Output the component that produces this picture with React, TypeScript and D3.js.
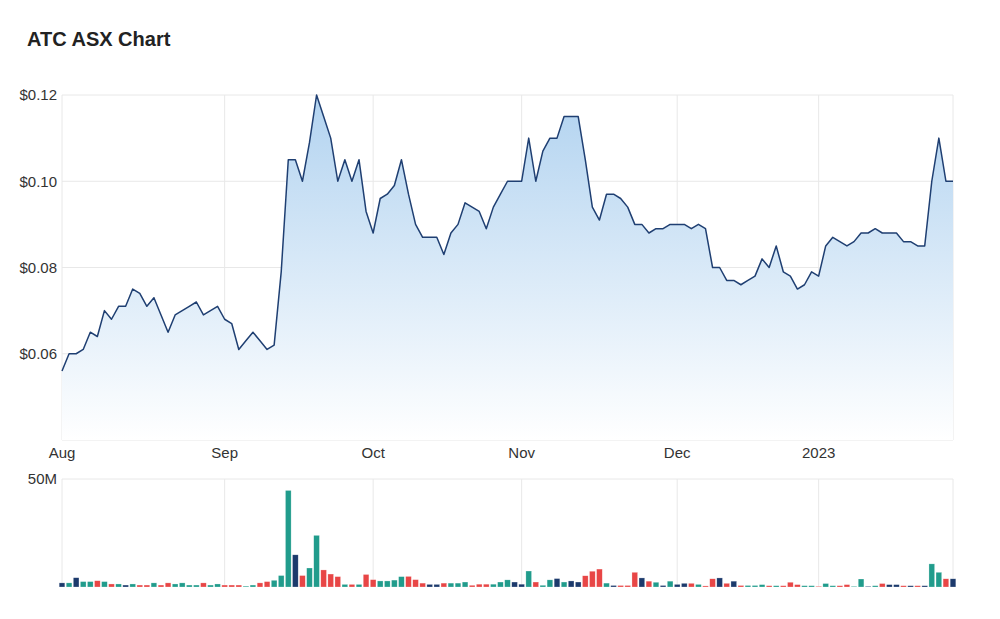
import React from "react";
import * as d3 from "d3";

const title = "ATC ASX Chart";

// Closing prices (AUD), one per ASX trading day, 1 Aug 2022 – 31 Jan 2023
const prices: number[] = [
  0.056, 0.060, 0.060, 0.061, 0.065, 0.064, 0.070, 0.068, 0.071, 0.071,
  0.075, 0.074, 0.071, 0.073, 0.069, 0.065, 0.069, 0.070, 0.071, 0.072,
  0.069, 0.070, 0.071, 0.068, 0.067, 0.061, 0.063, 0.065, 0.063, 0.061,
  0.062, 0.079, 0.105, 0.105, 0.100, 0.109, 0.120, 0.115, 0.110, 0.100,
  0.105, 0.100, 0.105, 0.093, 0.088, 0.096, 0.097, 0.099, 0.105, 0.097,
  0.090, 0.087, 0.087, 0.087, 0.083, 0.088, 0.090, 0.095, 0.094, 0.093,
  0.089, 0.094, 0.097, 0.100, 0.100, 0.100, 0.110, 0.100, 0.107, 0.110,
  0.110, 0.115, 0.115, 0.115, 0.105, 0.094, 0.091, 0.097, 0.097, 0.096,
  0.094, 0.090, 0.090, 0.088, 0.089, 0.089, 0.090, 0.090, 0.090, 0.089,
  0.090, 0.089, 0.080, 0.080, 0.077, 0.077, 0.076, 0.077, 0.078, 0.082,
  0.080, 0.085, 0.079, 0.078, 0.075, 0.076, 0.079, 0.078, 0.085, 0.087,
  0.086, 0.085, 0.086, 0.088, 0.088, 0.089, 0.088, 0.088, 0.088, 0.086,
  0.086, 0.085, 0.085, 0.100, 0.110, 0.100, 0.100,
];

// Daily volume, millions of shares
const volumesM: number[] = [
  1.9, 1.9, 4.3, 2.5, 2.5, 2.9, 2.5, 1.4, 1.4, 0.9,
  1.4, 0.9, 0.9, 1.9, 0.9, 1.9, 1.4, 1.9, 0.9, 0.9,
  1.9, 0.9, 1.4, 0.9, 0.9, 0.9, 0.4, 0.9, 1.9, 2.5,
  3.1, 5.3, 44.7, 14.9, 5.3, 8.8, 23.9, 7.9, 6.0, 4.8,
  1.2, 1.2, 1.2, 5.8, 3.4, 2.8, 2.8, 3.2, 4.8, 4.9,
  3.4, 1.8, 1.2, 1.2, 1.8, 1.8, 1.8, 2.3, 0.8, 1.3,
  1.3, 1.3, 2.3, 3.3, 2.3, 1.3, 7.4, 2.3, 0.8, 3.3,
  3.9, 2.3, 2.8, 2.3, 5.2, 7.3, 8.3, 1.8, 0.7, 0.7,
  0.7, 6.8, 4.2, 2.7, 2.2, 0.7, 2.7, 1.2, 1.7, 1.7,
  1.2, 0.5, 3.8, 4.2, 1.7, 2.7, 0.7, 0.7, 0.7, 1.1,
  0.6, 0.6, 0.6, 2.2, 1.1, 0.6, 0.6, 0.3, 1.6, 0.6,
  0.6, 1.1, 0.3, 3.7, 0.3, 0.6, 1.6, 1.1, 1.1, 0.6,
  0.6, 0.6, 0.6, 10.7, 6.8, 3.8, 3.8,
];

// Month labels and the trading-day index each falls on
const monthLabels: string[] = ["Aug", "Sep", "Oct", "Nov", "Dec", "2023"];
const monthIndex: number[] = [0, 23, 44, 65, 87, 107];

const priceTicks: number[] = [0.06, 0.08, 0.1, 0.12];
const volumeTicks: number[] = [50];

const W = 1000;
const H = 619;
const LEFT = 62;
const RIGHT = 953;
const P_TOP = 95;
const P_BOT = 440;
const V_TOP = 479;
const V_BOT = 587;

const UP = "#219c8c";
const DOWN = "#e84646";
const FLAT = "#1c3a6c";
const LINE = "#1f3f72";
const GRID = "#e8e8e8";
const TEXT = "#333333";
const FONT = "'Liberation Sans', Arial, sans-serif";

export default function App() {
  const n = prices.length;
  const x = d3.scaleLinear().domain([0, n - 1]).range([LEFT, RIGHT]);
  const y = d3.scaleLinear().domain([0.04, 0.12]).range([P_BOT, P_TOP]);
  const v = d3.scaleLinear().domain([0, 50]).range([V_BOT, V_TOP]);

  const line = d3
    .line<number>()
    .x((_, i) => x(i))
    .y((d) => y(d));
  const area = d3
    .area<number>()
    .x((_, i) => x(i))
    .y0(P_BOT)
    .y1((d) => y(d));

  const step = x(1) - x(0);
  const barW = step * 0.8;

  const colorFor = (i: number) => {
    if (i === 0) return FLAT;
    if (prices[i] > prices[i - 1]) return UP;
    if (prices[i] < prices[i - 1]) return DOWN;
    return FLAT;
  };

  return (
    <svg
      width={W}
      height={H}
      style={{ position: "absolute", left: 0, top: 0, background: "#fff" }}
      fontFamily={FONT}
    >
      <defs>
        <linearGradient id="areaGrad" gradientUnits="userSpaceOnUse" x1="0" y1={P_TOP} x2="0" y2={P_BOT}>
          <stop offset="0" stopColor="#b2d3f0" />
          <stop offset="1" stopColor="#ffffff" />
        </linearGradient>
      </defs>

      <text x={27} y={46} fontSize={20} fontWeight="bold" fill="#222">
        {title}
      </text>

      {/* price grid */}
      {[0.04, ...priceTicks].map((t) => (
        <line key={"pg" + t} x1={LEFT} x2={RIGHT} y1={y(t)} y2={y(t)} stroke={GRID} strokeWidth={1} />
      ))}
      {monthIndex.map((mi) => (
        <line key={"pv" + mi} x1={x(mi)} x2={x(mi)} y1={P_TOP} y2={P_BOT} stroke={GRID} strokeWidth={1} />
      ))}
      <line x1={RIGHT} x2={RIGHT} y1={P_TOP} y2={P_BOT} stroke={GRID} strokeWidth={1} />

      <path d={area(prices) ?? ""} fill="url(#areaGrad)" />
      <path d={line(prices) ?? ""} fill="none" stroke={LINE} strokeWidth={1.5} strokeLinejoin="round" />

      {priceTicks.map((t) => (
        <text key={"pt" + t} x={57} y={y(t)} dy="0.35em" textAnchor="end" fontSize={15} fill={TEXT}>
          {d3.format("$.2f")(t)}
        </text>
      ))}

      {monthLabels.map((m, k) => (
        <text key={"ml" + m} x={x(monthIndex[k])} y={458} textAnchor="middle" fontSize={15} fill={TEXT}>
          {m}
        </text>
      ))}

      {/* volume panel */}
      <line x1={LEFT} x2={RIGHT} y1={V_TOP} y2={V_TOP} stroke={GRID} strokeWidth={1} />
      {monthIndex.map((mi) => (
        <line key={"vv" + mi} x1={x(mi)} x2={x(mi)} y1={V_TOP} y2={V_BOT} stroke={GRID} strokeWidth={1} />
      ))}
      <line x1={RIGHT} x2={RIGHT} y1={V_TOP} y2={V_BOT} stroke={GRID} strokeWidth={1} />

      {volumesM.map((vol, i) => (
        <rect
          key={"vb" + i}
          x={x(i) - barW / 2}
          y={v(vol)}
          width={barW}
          height={V_BOT - v(vol)}
          fill={colorFor(i)}
          stroke="#ffffff"
          strokeOpacity={0.5}
          strokeWidth={0.5}
        />
      ))}

      {volumeTicks.map((t) => (
        <text key={"vt" + t} x={57} y={v(t)} dy="0.35em" textAnchor="end" fontSize={15} fill={TEXT}>
          {t + "M"}
        </text>
      ))}
    </svg>
  );
}
